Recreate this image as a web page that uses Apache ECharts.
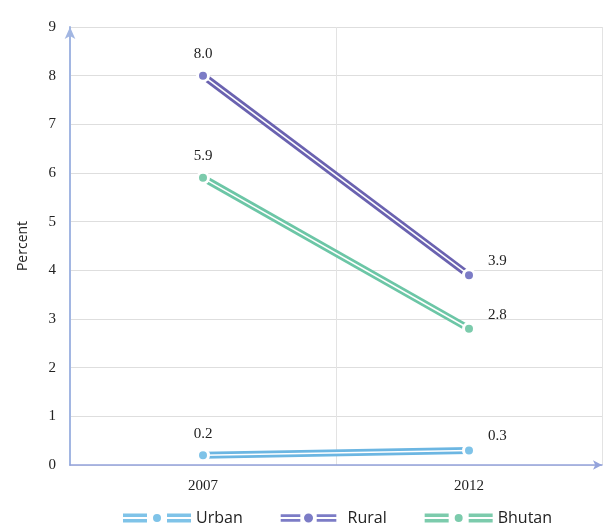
<!DOCTYPE html>
<html>
<head>
<meta charset="utf-8">
<script src="https://cdn.jsdelivr.net/npm/echarts@6/dist/echarts.min.js"></script>
<style>html,body{margin:0;padding:0;background:#fff}#c{width:603px;height:525px}</style>
</head>
<body>
<div id="c"></div>
<script>
var categories = ['2007', '2012'];
var urban = [0.2, 0.3];
var rural = [8.0, 3.9];
var bhutan = [5.9, 2.8];
var yTicks = [0, 1, 2, 3, 4, 5, 6, 7, 8, 9];

var chart = echarts.init(document.getElementById('c'));
var serif = 'Liberation Serif';
var sans = 'Open Sans';

function iconPath(r) {
  var cx = 34, cy = 4.5;
  return 'path://M0,0H24V3.4H0Z M0,5.6H24V9H0Z M44,0H68V3.4H44Z M44,5.6H68V9H44Z ' +
    'M' + (cx - r) + ',' + cy + 'A' + r + ',' + r + ',0,1,0,' + (cx + r) + ',' + cy +
    'A' + r + ',' + r + ',0,1,0,' + (cx - r) + ',' + cy + 'Z';
}

function build(name, data, lineColor, markColor, z) {
  var pts = data.map(function (v, i) {
    return {
      value: v,
      label: i === 0 ? { position: 'top', distance: 7 } : { position: 'right', distance: 12, offset: [0, -14] }
    };
  });
  return [
    { name: name, type: 'line', data: data, z: z, showSymbol: false, silent: true,
      lineStyle: { color: lineColor, width: 7 }, itemStyle: { color: markColor } },
    { name: name + '_inner', type: 'line', data: data, z: z + 1, showSymbol: false, silent: true,
      lineStyle: { color: '#ffffff', width: 1.5 } },
    { name: name, type: 'line', data: pts, z: z + 2, symbol: 'circle', symbolSize: 11,
      lineStyle: { width: 0, opacity: 0 },
      itemStyle: { color: markColor, borderColor: '#ffffff', borderWidth: 3 },
      label: { show: true, fontFamily: serif, fontSize: 15, color: '#222',
        formatter: function (p) { return p.value.toFixed(1); } } }
  ];
}

var series = [].concat(
  build('Urban', urban, '#6cb6e2', '#7fc3e8', 10),
  build('Rural', rural, '#6a62b0', '#7c7cc6', 20),
  build('Bhutan', bhutan, '#6cc6a6', '#7ccbac', 30)
);

chart.setOption({
  animation: false,
  grid: { left: 70, right: 1, top: 27, bottom: 60 },
  xAxis: {
    type: 'category', data: categories, boundaryGap: true,
    axisLine: { show: true, lineStyle: { color: '#94a3dc', width: 1.5 }, symbol: ['none', 'arrow'], symbolSize: [7, 9] },
    axisTick: { show: false },
    axisLabel: { fontFamily: serif, fontSize: 15, color: '#222', margin: 14 },
    splitLine: { show: true, lineStyle: { color: '#e3e3e3' } }
  },
  yAxis: {
    type: 'value', min: 0, max: 9, interval: 1,
    name: 'Percent', nameLocation: 'middle', nameGap: 40, nameRotate: 90,
    nameTextStyle: { fontFamily: sans, fontSize: 14, color: '#222' },
    axisLine: { show: true, lineStyle: { color: '#a2b6e2', width: 2 }, symbol: ['none', 'arrow'], symbolSize: [8, 12] },
    axisTick: { show: false },
    axisLabel: { fontFamily: serif, fontSize: 15, color: '#222', margin: 14,
      formatter: function (v) { return yTicks.indexOf(v) >= 0 ? String(v) : ''; } },
    splitLine: { show: true, lineStyle: { color: '#dedede' } }
  },
  legend: {
    left: 118, top: 505, itemGap: 38, itemWidth: 68, itemHeight: 9,
    textStyle: { fontFamily: sans, fontSize: 16, color: '#222' },
    data: [
      { name: 'Urban', icon: iconPath(4) },
      { name: 'Rural', icon: iconPath(5.5) },
      { name: 'Bhutan', icon: iconPath(4) }
    ]
  },
  series: series
});
</script>
</body>
</html>
